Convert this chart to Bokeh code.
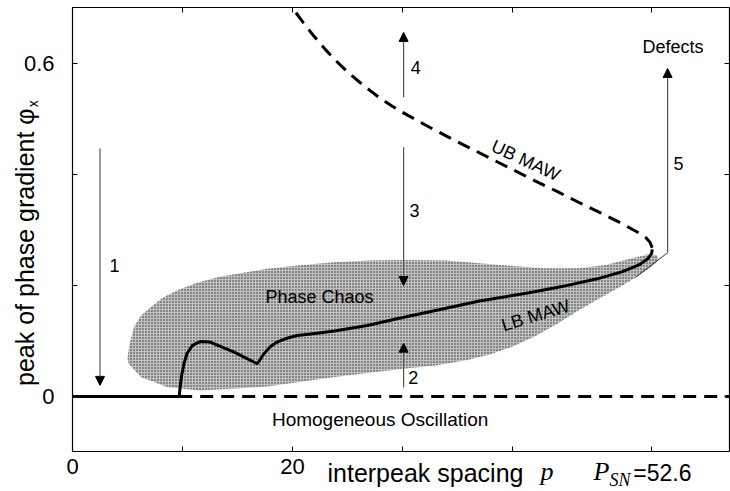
from bokeh.plotting import figure
from bokeh.models import (Range1d, LinearAxis, FixedTicker, CustomJSTickFormatter,
                          Label, Arrow, NormalHead, ColumnDataSource)
from bokeh.embed import file_html
from bokeh.resources import INLINE

# ---------------- data ----------------
x_ticks = [0, 10, 20, 30, 40, 52.6]
x_tick_labels_shown = [0, 20]
y_ticks = [0, 0.2, 0.4, 0.6]
y_tick_labels_shown = [0, 0.6]
x_axis_bounds = (0, 59.7)
y_axis_bounds = (-0.1, 0.7)

# homogeneous oscillation branch
homog_stable_p = [0.0, 9.7]
homog_stable_y = [0.0, 0.0]
homog_unstable_p = [9.7, 59.7]
homog_unstable_y = [0.0, 0.0]

# lower branch MAW (solid)
lb_p = [9.7, 9.8, 9.95, 10.15, 10.4, 10.9, 11.6, 12.5, 13.5, 14.7, 16.8, 17.4, 18.0,
        18.6, 19.5, 20.4, 21.5, 23.8, 26.8, 29.5, 33.0, 37.0, 41.5, 44.5, 47.7, 50.0,
        51.5, 52.3, 52.65, 52.7]
lb_y = [0.0, 0.02, 0.041, 0.06, 0.077, 0.092, 0.099, 0.098, 0.09, 0.080, 0.059, 0.077,
        0.090, 0.098, 0.105, 0.110, 0.112, 0.118, 0.128, 0.140, 0.155, 0.172, 0.187,
        0.198, 0.212, 0.225, 0.237, 0.248, 0.258, 0.265]

# upper branch MAW (dashed)
ub_p = [52.7, 52.5, 52.0, 51.0, 50.0, 48.0, 46.0, 44.0, 42.0, 40.0, 38.0, 36.0, 34.0,
        32.0, 30.0, 29.0, 28.0, 27.0, 26.0, 25.0, 24.0, 23.0, 22.0, 21.0, 20.0]
ub_y = [0.268, 0.278, 0.289, 0.300, 0.311, 0.331, 0.350, 0.370, 0.389, 0.409, 0.429,
        0.449, 0.469, 0.490, 0.512, 0.524, 0.537, 0.552, 0.568, 0.585, 0.604, 0.625,
        0.648, 0.673, 0.700]

# phase chaos region
chaos_top_p = [5.0, 5.2, 5.6, 6.2, 7.1, 8.2, 9.5, 11.2, 13.2, 15.5, 17.7, 20.5, 23.8,
               27.0, 30.0, 34.0, 37.0, 40.0, 43.0, 46.0, 48.5, 50.7, 52.3, 53.1, 53.3]
chaos_top_y = [0.07, 0.095, 0.125, 0.145, 0.161, 0.178, 0.191, 0.204, 0.215, 0.223,
               0.230, 0.236, 0.242, 0.245, 0.246, 0.245, 0.240, 0.235, 0.231, 0.231,
               0.237, 0.248, 0.256, 0.255, 0.247]
chaos_bot_p = [53.0, 52.5, 51.5, 50.0, 48.0, 46.0, 44.0, 42.0, 40.0, 38.0, 36.0, 33.0,
               30.0, 23.8, 17.7, 11.6, 8.6, 6.2, 5.1]
chaos_bot_y = [0.240, 0.232, 0.218, 0.200, 0.178, 0.155, 0.130, 0.108, 0.090, 0.076,
               0.066, 0.056, 0.050, 0.035, 0.018, 0.011, 0.017, 0.035, 0.059]

# arrows (numbered transitions)
arrow_p = [2.5, 30.1, 30.1, 30.1, 54.1]
arrow_y_start = [0.447, 0.016, 0.449, 0.539, 0.259]
arrow_y_end = [0.020, 0.096, 0.200, 0.656, 0.591]
arrow_names = ["1", "2", "3", "4", "5"]
arrow_label_p = [3.82, 30.97, 31.1, 31.2, 55.1]
arrow_label_y = [0.236, 0.034, 0.335, 0.593, 0.420]

defect_link_p = [51.2, 54.1]
defect_link_y = [0.215, 0.259]

FONT = "Liberation Sans"
SERIF = "Liberation Serif"

# The frame covers the whole canvas; the visible box is drawn by axes at fixed
# locations so that texts outside the box are not clipped.
p = figure(width=730, height=491, x_range=Range1d(-6.5455, 59.818),
           y_range=Range1d(-0.1712, 0.7135),
           output_backend="svg", toolbar_location=None,
           min_border_left=0, min_border_right=0, min_border_top=0, min_border_bottom=0)
p.grid.visible = False
p.outline_line_color = None
p.background_fill_color = "white"
p.border_fill_color = "white"

fmt_x = CustomJSTickFormatter(args=dict(shown=x_tick_labels_shown),
                              code="return shown.includes(tick) ? tick.toString() : '';")
fmt_y = CustomJSTickFormatter(args=dict(shown=y_tick_labels_shown),
                              code="return shown.includes(tick) ? tick.toString() : '';")
fmt_none = CustomJSTickFormatter(code="return '';")

xa = p.xaxis[0]
xa.ticker = FixedTicker(ticks=x_ticks)
xa.formatter = fmt_x
xa.fixed_location = y_axis_bounds[0]
xa.bounds = x_axis_bounds
xa.major_label_standoff = 7

ya = p.yaxis[0]
ya.ticker = FixedTicker(ticks=y_ticks)
ya.formatter = fmt_y
ya.fixed_location = x_axis_bounds[0]
ya.bounds = y_axis_bounds
ya.major_label_standoff = 18

top = LinearAxis(ticker=FixedTicker(ticks=x_ticks), formatter=fmt_none,
                 fixed_location=y_axis_bounds[1], bounds=x_axis_bounds)
right = LinearAxis(ticker=FixedTicker(ticks=y_ticks), formatter=fmt_none,
                   fixed_location=x_axis_bounds[1], bounds=y_axis_bounds)
p.add_layout(top, "above")
p.add_layout(right, "right")

for ax in [xa, ya, top, right]:
    ax.major_tick_in = 5
    ax.major_tick_out = 0
    ax.minor_tick_line_color = None
    ax.axis_line_color = "black"
    ax.axis_line_width = 1.2
    ax.major_tick_line_color = "black"
    ax.major_label_text_font = FONT
    ax.major_label_text_font_size = "22px"
    ax.major_label_text_color = "black"

# chaos region
region_p = chaos_top_p + chaos_bot_p
region_y = chaos_top_y + chaos_bot_y
p.patch(region_p, region_y, fill_color="#c2c2c2", line_color=None,
        hatch_pattern="dot", hatch_color="#2a2a2a", hatch_scale=3, hatch_weight=1)

# lines
p.line(homog_stable_p, homog_stable_y, line_color="black", line_width=3)
p.line(homog_unstable_p, homog_unstable_y, line_color="black", line_width=3, line_dash="13 8")
p.line(lb_p, lb_y, line_color="black", line_width=3)
p.line(ub_p, ub_y, line_color="black", line_width=3, line_dash="13 8")
p.line(defect_link_p, defect_link_y, line_color="#333333", line_width=1)

arrow_src = ColumnDataSource(dict(x0=arrow_p, y0=arrow_y_start, x1=arrow_p, y1=arrow_y_end))
p.add_layout(Arrow(source=arrow_src, x_start="x0", y_start="y0", x_end="x1", y_end="y1",
                   line_color="#555555", line_width=1.2,
                   end=NormalHead(size=9, fill_color="black", line_color="black", line_width=1)))


def lab(x, y, text, size="18px", font=FONT, style="normal", align="center",
        baseline="middle", angle=0):
    p.add_layout(Label(x=x, y=y, text=text, text_font=font, text_font_size=size,
                       text_font_style=style, text_align=align, text_baseline=baseline,
                       angle=angle, angle_units="deg", text_color="black"))


for name, lx, ly in zip(arrow_names, arrow_label_p, arrow_label_y):
    lab(lx, ly, name)

lab(54.6, 0.629, "Defects")
lab(22.45, 0.179, "Phase Chaos")
lab(42.1, 0.146, "LB MAW", angle=17)
lab(41.2, 0.425, "UB MAW", angle=-25)
lab(27.97, -0.041, "Homogeneous Oscillation", size="19px")

# x axis title texts
lab(23.18, -0.137, "interpeak spacing", size="25px", align="left")
lab(42.55, -0.135, "p", size="26px", font=SERIF, style="italic", align="left")
lab(47.36, -0.135, "P", size="26px", font=SERIF, style="italic", align="left")
lab(48.82, -0.151, "SN", size="18px", font=SERIF, style="italic", align="left")
lab(50.98, -0.137, "=52.6", size="23px", align="left")

# y axis title
lab(-4.32, 0.269, "peak of phase gradient φ", size="25px", align="center", angle=90)
lab(-3.55, 0.521, "x", size="14px", align="left", angle=90)

open("out.html", "w").write(file_html(p, INLINE))
